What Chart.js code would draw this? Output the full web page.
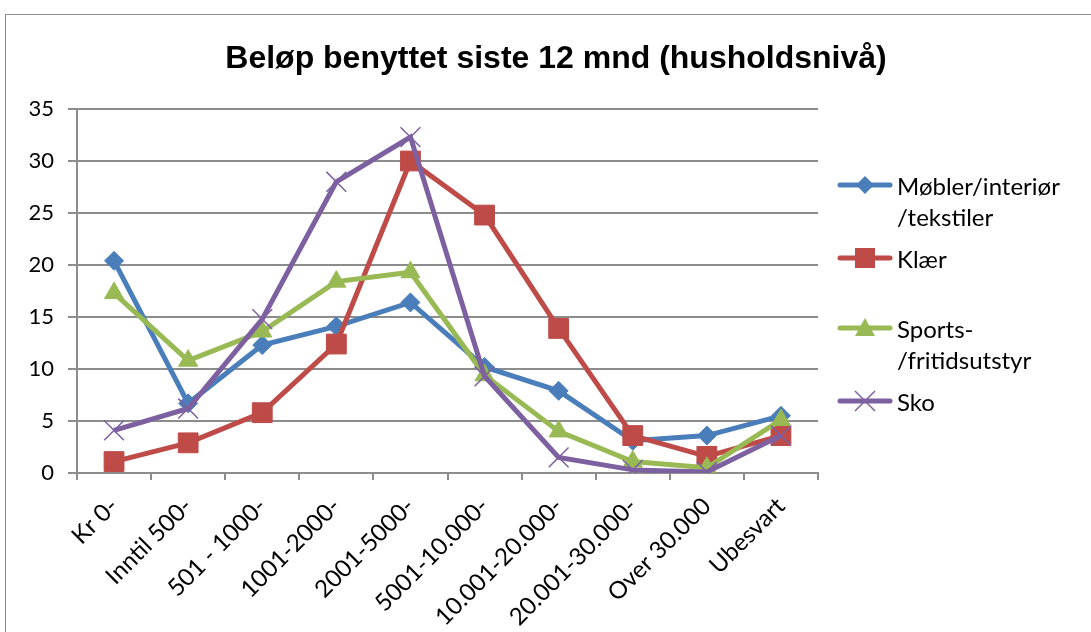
<!DOCTYPE html>
<html><head><meta charset="utf-8">
<script src="https://cdn.jsdelivr.net/npm/chart.js@4.4.1/dist/chart.umd.min.js"></script>
<style>
html,body{margin:0;padding:0;background:#fff;overflow:hidden;}
#wrap{position:relative;width:1091px;height:632px;}
#frame{position:absolute;left:5px;top:14px;width:1100px;height:640px;border:1.5px solid #8c8c8c;box-sizing:border-box;}
#c{position:absolute;left:0;top:0;}
#title{position:absolute;left:0;width:1112px;top:35px;text-align:center;font-family:"Liberation Sans",Arial,sans-serif;font-weight:bold;font-size:32px;line-height:44px;color:#000;white-space:nowrap;}
.li{position:absolute;left:837px;font-family:Lato,"Liberation Sans",sans-serif;font-size:24px;line-height:31px;color:#000;white-space:nowrap;}
.li svg{position:absolute;left:0;top:3px;}
.li span{position:absolute;left:60px;top:0;}
</style>
</head><body>
<div id="wrap">
<div id="frame"></div>
<canvas id="c" width="1091" height="632"></canvas>
<div id="title"></div>
<div id="legend"></div>
</div>
<script>
const categories = ['Kr 0-','Inntil 500-','501 - 1000-','1001-2000-','2001-5000-','5001-10.000-','10.001-20.000-','20.001-30.000-','Over 30.000','Ubesvart'];
const seriesNames = ['Møbler/interiør /tekstiler','Klær','Sports- /fritidsutstyr','Sko'];
const mobler = [20.4, 6.7, 12.3, 14.1, 16.4, 10.2, 7.9, 3.1, 3.6, 5.5];
const klaer  = [1.1, 2.9, 5.8, 12.4, 30.0, 24.8, 13.9, 3.6, 1.6, 3.6];
const sports = [17.3, 10.8, 13.6, 18.4, 19.3, 9.4, 4.0, 1.1, 0.5, 5.1];
const sko    = [4.1, 6.2, 14.8, 28.0, 32.3, 9.3, 1.5, 0.3, 0.1, 3.6];
const yTicks = [0, 5, 10, 15, 20, 25, 30, 35];
const titleText = 'Beløp benyttet siste 12 mnd (husholdsnivå)';

const colors = ['#4a7ebb', '#be4b48', '#98b954', '#7d60a0'];
const FONT = 'Lato, "Liberation Sans", sans-serif';
document.getElementById('title').textContent = titleText;

const styles = [
  {pointStyle:'rectRot', pointRadius:9.5, pointBorderWidth:1},
  {pointStyle:'rect', pointRadius:14, pointBorderWidth:1},
  {pointStyle:'triangle', pointRadius:11, pointBorderWidth:1},
  {pointStyle:'crossRot', pointRadius:14, pointBorderWidth:1.5}
];
const values = [mobler, klaer, sports, sko];

const datasets = values.map((v, i) => Object.assign({
  label: seriesNames[i],
  data: v,
  borderColor: colors[i],
  backgroundColor: colors[i],
  pointBackgroundColor: colors[i],
  pointBorderColor: colors[i],
  borderWidth: 5,
  tension: 0,
  order: 4 - i
}, styles[i]));

const grey = '#8c8c8c';
new Chart(document.getElementById('c'), {
  type: 'line',
  data: { labels: categories, datasets },
  options: {
    responsive: false,
    animation: false,
    layout: { padding: { left: 0, right: 273, top: 109, bottom: 0 } },
    plugins: { legend: { display: false }, title: { display: false }, tooltip: { enabled: false } },
    scales: {
      x: {
        offset: true,
        grid: { offset: true, drawOnChartArea: false, drawTicks: true, tickLength: 7, color: grey, lineWidth: 2 },
        border: { color: grey, width: 2 },
        ticks: { color: '#000', font: { family: FONT, size: 24 }, maxRotation: 45, minRotation: 45, autoSkip: false, padding: 12 },
        afterFit: (s) => { s.height = 159; }
      },
      y: {
        min: 0, max: 35,
        afterBuildTicks: (s) => { s.ticks = yTicks.map(v => ({ value: v })); },
        grid: { color: grey, lineWidth: 2, tickLength: 9, drawTicks: true },
        border: { color: grey, width: 2 },
        ticks: { color: '#000', font: { family: FONT, size: 22 }, padding: 14 },
        afterFit: (s) => { s.width = 77; }
      }
    }
  }
});

// HTML legend
const legendRows = [
  { y: 185, lines: ['Møbler/interiør', '/tekstiler'] },
  { y: 258, lines: ['Klær'] },
  { y: 328, lines: ['Sports-', '/fritidsutstyr'] },
  { y: 401, lines: ['Sko'] }
];
function markerSvg(i) {
  const c = colors[i];
  let m = '';
  if (i === 0) m = `<polygon points="28,3 37,12 28,21 19,12" fill="${c}"/>`;
  if (i === 1) m = `<rect x="18" y="2" width="20" height="20" fill="${c}"/>`;
  if (i === 2) m = `<polygon points="28,2 38,20 18,20" fill="${c}"/>`;
  if (i === 3) m = `<path d="M18 2 L38 22 M38 2 L18 22" stroke="${c}" stroke-width="1.5"/>`;
  return `<svg width="56" height="24"><line x1="3" y1="12" x2="53" y2="12" stroke="${c}" stroke-width="5" stroke-linecap="round"/>${m}</svg>`;
}
const lg = document.getElementById('legend');
legendRows.forEach((r, i) => {
  const d = document.createElement('div');
  d.className = 'li';
  d.style.top = (r.y - 15) + 'px';
  d.innerHTML = markerSvg(i) + '<span>' + r.lines.join('<br>') + '</span>';
  lg.appendChild(d);
});
</script>
</body></html>
